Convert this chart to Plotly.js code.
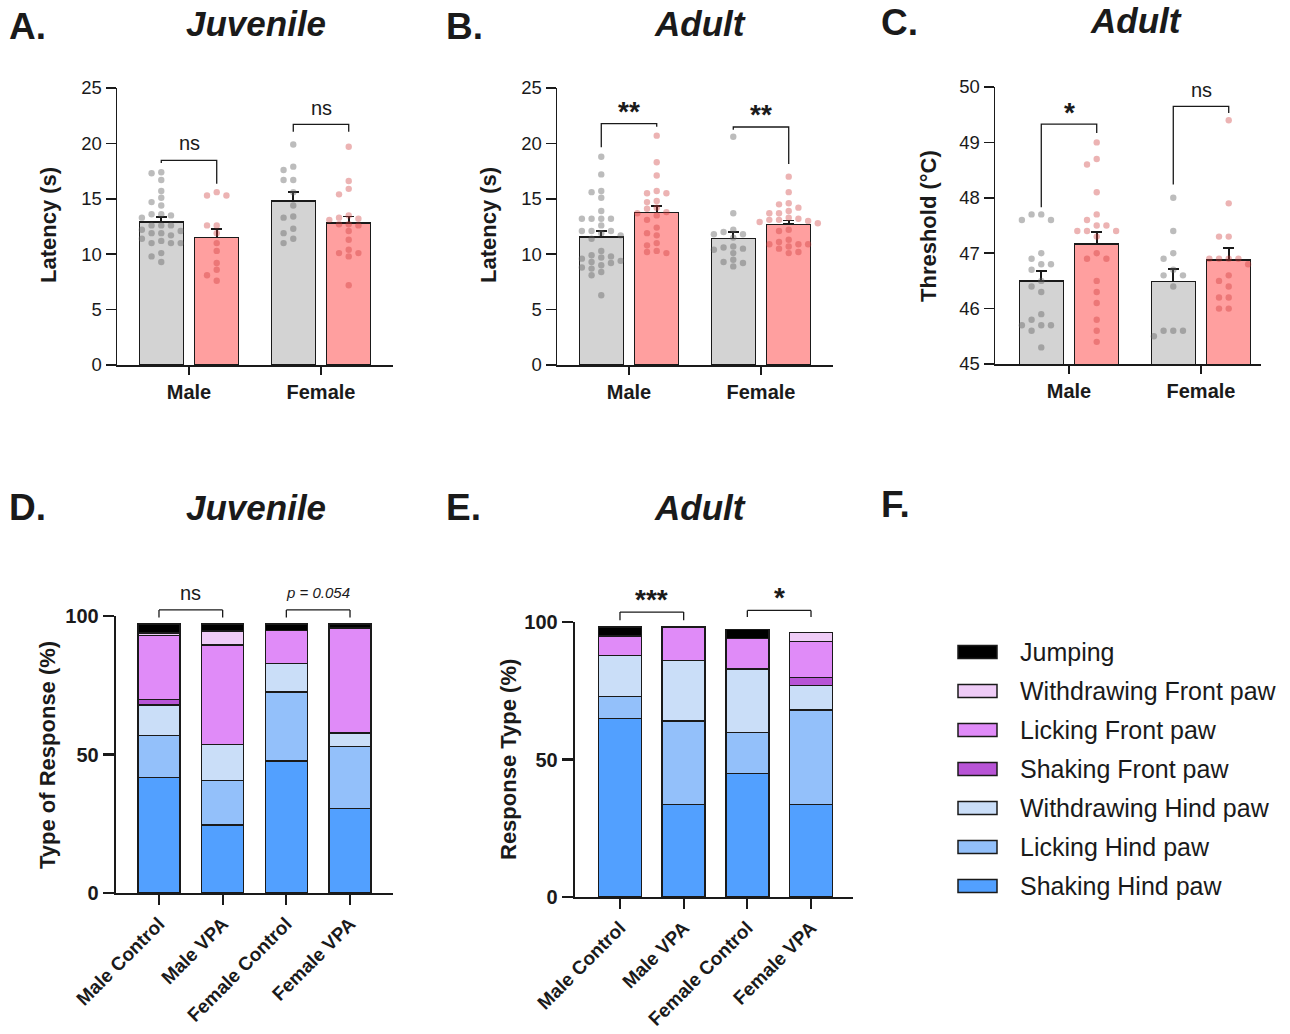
<!DOCTYPE html>
<html><head><meta charset="utf-8">
<script src="https://cdn.plot.ly/plotly-3.0.1.min.js"></script>
<style>html,body{margin:0;padding:0;background:#fff}#chart{width:1290px;height:1034px}</style>
</head><body><div id="chart"></div>
<script>
// ================= DATA =================
const sexLabels = ['Male', 'Female'];

// Panel A – Juvenile latency (s)
const juvLatMaleCtl = [17.4, 17.3, 16.7, 15.7, 15.1, 14.7, 14.4, 13.6, 13.6, 13.3, 13.5, 12.6, 12.6, 12.6, 12.2, 12.1, 11.9, 11.9, 11.7, 11.4, 11.2, 11.0, 11.0, 11.0, 10.1, 9.8, 9.3];
const juvLatMaleVPA = [15.6, 15.3, 15.3, 12.6, 12.6, 11.9, 11.0, 10.3, 9.2, 8.6, 8.1, 7.6];
const juvLatFemaleCtl = [19.9, 17.9, 17.6, 16.7, 16.7, 15.6, 14.4, 13.4, 13.3, 12.3, 11.9, 11.4, 11.0];
const juvLatFemaleVPA = [19.7, 16.6, 15.9, 15.4, 13.5, 13.3, 13.2, 13.1, 12.7, 12.7, 12.6, 12.1, 11.3, 10.4, 10.1, 10.1, 9.8, 7.2];
const juvLatMeanCtl = [12.9, 14.8];
const juvLatMeanVPA = [11.5, 12.8];
const juvLatSemCtl = [0.45, 0.8];
const juvLatSemVPA = [0.8, 0.6];

// Panel B – Adult latency (s)
const adLatMaleCtl = [18.8, 17.2, 15.7, 15.6, 15.1, 13.9, 13.2, 13.2, 13.2, 13.2, 12.6, 12.1, 12.1, 12.1, 11.9, 11.7, 11.4, 10.3, 9.9, 9.8, 9.7, 9.6, 9.4, 9.3, 9.2, 9.0, 8.8, 8.7, 8.4, 8.1, 6.3];
const adLatMaleVPA = [20.7, 18.3, 17.1, 15.7, 15.5, 15.5, 14.8, 14.7, 14.2, 14.1, 13.8, 13.7, 13.5, 13.1, 12.4, 11.9, 11.7, 11.0, 10.8, 10.3, 10.2, 10.1];
const adLatFemaleCtl = [20.6, 13.7, 12.2, 12.0, 11.8, 11.8, 11.5, 10.7, 10.6, 10.5, 10.4, 10.1, 9.5, 9.3, 9.2, 8.9];
const adLatFemaleVPA = [17.0, 15.6, 14.6, 14.5, 14.2, 13.9, 13.7, 13.7, 13.3, 13.2, 13.1, 13.1, 13.0, 12.9, 12.8, 12.2, 12.1, 11.3, 11.1, 10.9, 10.9, 10.9, 10.7, 10.5, 10.2, 10.1];
const adLatMeanCtl = [11.55, 11.4];
const adLatMeanVPA = [13.75, 12.7];
const adLatSemCtl = [0.55, 0.62];
const adLatSemVPA = [0.6, 0.36];

// Panel C – Adult threshold (°C)
const thrMaleCtl = [47.7, 47.7, 47.6, 47.6, 47.0, 46.9, 46.8, 46.8, 46.7, 46.5, 46.4, 46.3, 45.9, 45.8, 45.7, 45.7, 45.7, 45.6, 45.3];
const thrMaleVPA = [49.0, 48.7, 48.6, 48.1, 47.7, 47.6, 47.5, 47.5, 47.4, 47.4, 47.4, 47.3, 47.0, 46.9, 46.9, 46.5, 46.3, 46.1, 45.8, 45.6, 45.4];
const thrFemaleCtl = [48.0, 47.4, 47.0, 46.9, 46.7, 46.6, 46.6, 46.4, 45.6, 45.6, 45.6, 45.5];
const thrFemaleVPA = [49.4, 47.9, 47.3, 47.3, 46.9, 46.9, 46.9, 46.9, 46.8, 46.6, 46.5, 46.4, 46.2, 46.2, 46.0, 46.0];
const thrMeanCtl = [46.5, 46.49];
const thrMeanVPA = [47.17, 46.88];
const thrSemCtl = [0.18, 0.22];
const thrSemVPA = [0.21, 0.21];

// Significance labels and bracket heights [top, left leg end, right leg end]
const sigA = ['ns', 'ns'];
const bracketA = [[18.47, 18.23, 16.36], [21.72, 21.06, 21.06]];
const sigLabelYA = [20.04, 23.22];
const sigB = ['**', '**'];
const bracketB = [[21.78, 19.65, 21.5], [21.48, 21.24, 18.14]];
const sigLabelYB = [23.26, 22.95];
const sigC = ['*', 'ns'];
const bracketC = [[49.33, 47.83, 49.17], [49.65, 48.24, 49.53]];
const sigLabelYC = [49.62, 49.95];

// Panels D/E – response types (%)
const groups4 = ['Male Control', 'Male VPA', 'Female Control', 'Female VPA'];
const responseTypes = ['Shaking Hind paw', 'Licking Hind paw', 'Withdrawing Hind paw', 'Shaking Front paw', 'Licking Front paw', 'Withdrawing Front paw', 'Jumping'];
const responseColors = ['#52A0FF', '#93C0FA', '#CADEF8', '#B854D6', '#E08BF8', '#EFCCF7', '#000000'];

const juvShakingHind = [41.8, 24.6, 47.7, 30.6];
const juvLickingHind = [15.0, 16.1, 24.9, 22.2];
const juvWithdrawHind = [11.0, 13.0, 10.2, 4.9];
const juvShakingFront = [2.0, 0, 0, 0];
const juvLickingFront = [23.1, 35.8, 11.9, 37.9];
const juvWithdrawFront = [0.9, 5.1, 0, 0];
const juvJumping = [3.3, 2.5, 2.4, 1.5];

const adShakingHind = [64.9, 33.7, 45.0, 33.7];
const adLickingHind = [8.1, 30.3, 14.9, 34.3];
const adWithdrawHind = [14.9, 22.0, 23.0, 8.9];
const adShakingFront = [0, 0, 0, 3.0];
const adLickingFront = [7.0, 12.2, 11.1, 13.1];
const adWithdrawFront = [0, 0, 0, 3.1];
const adJumping = [3.3, 0, 3.2, 0];

const sigD = ['ns', '<i>p = 0.054</i>'];
const bracketD = [[102.2, 99.5, 99.5], [102.2, 99.5, 99.5]];
const sigLabelYD = [108.4, 108.4];
const sigE = ['***', '*'];
const bracketE = [[103.6, 100.6, 100.6], [104.2, 101.8, 101.8]];
const sigLabelYE = [109.8, 110.4];

// ================= LAYOUT HELPERS =================
const W = 1290, H = 1034;
const FONT = 'Arial, "Liberation Sans", Helvetica, sans-serif';
const INK = '#1a1a1a';
const px = x => x / W;
const py = y => 1 - y / H;
const dx = (a, b) => [a / W, b / W];
const dy = (top, bottom) => [1 - bottom / H, 1 - top / H];

const GRAY_BAR = '#D3D3D3', RED_BAR = '#FF9F9F';
const GRAY_DOT = 'rgba(95,95,95,0.42)', RED_DOT = 'rgba(205,55,55,0.38)';
const OFF = 0.21, BARW = 0.333;
const AST_SIZE = 28, AST_SHIFT = -4;

// deterministic beeswarm (column layout)
function swarm(values, center, pxPerX, pxPerY) {
  const step = 9.7, minGap = 6.6;
  const placed = [];
  const out = new Array(values.length);
  const order = values.map((v, i) => i).sort((a, b) => values[b] - values[a]);
  for (const i of order) {
    const y = values[i] * pxPerY;
    for (let k = 0; k < 30; k++) {
      const col = k === 0 ? 0 : (k % 2 ? -Math.ceil(k / 2) : Math.ceil(k / 2));
      if (!placed.some(p => p.col === col && Math.abs(p.y - y) < minGap)) {
        placed.push({ col, y });
        out[i] = center + col * step / pxPerX;
        break;
      }
    }
  }
  return out;
}

const traces = [];
const annotations = [];
const shapes = [];

function sigFont(label) {
  const isAst = label.indexOf('*') >= 0;
  const isP = label.indexOf('p =') >= 0;
  return { family: FONT, size: isAst ? AST_SIZE : (isP ? 15 : 20), color: INK, weight: isAst ? 'bold' : 'normal' };
}

function addDotPanel(ax, means, sems, dots, pxPerY, brackets, sig, sigY) {
  const xa = 'x' + (ax === 1 ? '' : ax), ya = 'y' + (ax === 1 ? '' : ax);
  const [meanC, meanV] = means, [semC, semV] = sems;
  traces.push({
    type: 'bar', xaxis: xa, yaxis: ya, x: [0 - OFF, 1 - OFF], y: meanC, width: BARW,
    marker: { color: GRAY_BAR, line: { color: INK, width: 1.5 } },
    error_y: { type: 'data', symmetric: false, array: semC, arrayminus: [0, 0], color: INK, thickness: 1.6, width: 5.5 },
    showlegend: false, hoverinfo: 'skip'
  });
  traces.push({
    type: 'bar', xaxis: xa, yaxis: ya, x: [0 + OFF, 1 + OFF], y: meanV, width: BARW,
    marker: { color: RED_BAR, line: { color: INK, width: 1.5 } },
    error_y: { type: 'data', symmetric: false, array: semV, arrayminus: [0, 0], color: INK, thickness: 1.6, width: 5.5 },
    showlegend: false, hoverinfo: 'skip'
  });
  dots.forEach((vals, gi) => {
    const sexIdx = gi >> 1, isVPA = gi % 2 === 1;
    const c = sexIdx + (isVPA ? OFF : -OFF);
    traces.push({
      type: 'scatter', mode: 'markers', xaxis: xa, yaxis: ya,
      x: swarm(vals, c, 132, pxPerY), y: vals,
      marker: { size: 6.4, color: isVPA ? RED_DOT : GRAY_DOT, line: { width: 0 } },
      cliponaxis: false, showlegend: false, hoverinfo: 'skip'
    });
  });
  brackets.forEach((b, i) => {
    traces.push({
      type: 'scatter', mode: 'lines', xaxis: xa, yaxis: ya,
      x: [i - OFF, i - OFF, i + OFF, i + OFF], y: [b[1], b[0], b[0], b[2]],
      line: { color: INK, width: 1.3 }, cliponaxis: false, showlegend: false, hoverinfo: 'skip'
    });
    const isAst = sig[i].indexOf('*') >= 0;
    annotations.push({
      xref: xa, yref: ya, x: i, y: sigY[i], text: sig[i], showarrow: false,
      xanchor: 'center', yanchor: 'middle', yshift: isAst ? AST_SHIFT : 0, font: sigFont(sig[i])
    });
  });
}

addDotPanel(1, [juvLatMeanCtl, juvLatMeanVPA], [juvLatSemCtl, juvLatSemVPA],
  [juvLatMaleCtl, juvLatMaleVPA, juvLatFemaleCtl, juvLatFemaleVPA], 277 / 25, bracketA, sigA, sigLabelYA);
addDotPanel(2, [adLatMeanCtl, adLatMeanVPA], [adLatSemCtl, adLatSemVPA],
  [adLatMaleCtl, adLatMaleVPA, adLatFemaleCtl, adLatFemaleVPA], 277 / 25, bracketB, sigB, sigLabelYB);
addDotPanel(3, [thrMeanCtl, thrMeanVPA], [thrSemCtl, thrSemVPA],
  [thrMaleCtl, thrMaleVPA, thrFemaleCtl, thrFemaleVPA], 277 / 5, bracketC, sigC, sigLabelYC);

// ================= AXES =================
function axisBase(lw) {
  return {
    showline: true, linecolor: INK, linewidth: lw, ticks: 'outside', ticklen: 9, tickwidth: lw, tickcolor: INK,
    showgrid: false, zeroline: false, fixedrange: true
  };
}
const xCat = (dom, range, anchor) => Object.assign(axisBase(1.5), {
  domain: dom, range: range, tickvals: [0, 1], ticktext: sexLabels, anchor: anchor, ticklen: 8,
  tickfont: { family: FONT, size: 20, color: INK, weight: 'bold' }
});
const yNum = (dom, range, dtick, anchor) => Object.assign(axisBase(1.5), {
  domain: dom, range: range, dtick: dtick, anchor: anchor, ticklen: 10,
  tickfont: { family: FONT, size: 18.5, color: INK }
});
const xStack = (dom, range, anchor) => Object.assign(axisBase(2.3), {
  domain: dom, range: range, type: 'category', categoryorder: 'array', categoryarray: groups4,
  anchor: anchor, tickangle: -45, ticklen: 10,
  tickfont: { family: FONT, size: 19, color: INK, weight: 'bold' }
});
const yStack = (dom, anchor) => Object.assign(axisBase(2.3), {
  domain: dom, range: [0, 100], tickvals: [0, 50, 100], anchor: anchor, ticklen: 11,
  tickfont: { family: FONT, size: 20, color: INK, weight: 'bold' }
});

const axD = xStack(dx(116, 393), [-43 / 63.7, 3 + 43 / 63.7], 'y4');
const ayD = yStack(dy(616, 893), 'x4');
const axE = xStack(dx(575, 853), [-45 / 63.7, 3 + 42 / 63.7], 'y5');
const ayE = yStack(dy(622, 897), 'x5');

// stacked panels
const juvSeries = [juvShakingHind, juvLickingHind, juvWithdrawHind, juvShakingFront, juvLickingFront, juvWithdrawFront, juvJumping];
const adSeries = [adShakingHind, adLickingHind, adWithdrawHind, adShakingFront, adLickingFront, adWithdrawFront, adJumping];

// fraction of an axis' domain for a data value (brackets above the plotted range)
const frac = (axis, v) => (v - axis.range[0]) / (axis.range[1] - axis.range[0]);

function addStackPanel(ax, axX, axY, series, barW, brackets, sig, sigY) {
  const xa = 'x' + ax, ya = 'y' + ax;
  const xd = xa + ' domain', yd = ya + ' domain';
  series.forEach((vals, i) => {
    traces.push({
      type: 'bar', xaxis: xa, yaxis: ya, x: groups4, y: vals, width: barW, name: responseTypes[i],
      marker: { color: responseColors[i], line: { color: INK, width: 1.4 } },
      showlegend: false, hoverinfo: 'skip'
    });
  });
  brackets.forEach((b, i) => {
    const xL = frac(axX, 2 * i), xR = frac(axX, 2 * i + 1);
    const yT = frac(axY, b[0]), yL = frac(axY, b[1]), yR = frac(axY, b[2]);
    const ln = { color: INK, width: 1.3 };
    shapes.push({ type: 'line', xref: xd, yref: yd, x0: xL, x1: xL, y0: yL, y1: yT, line: ln });
    shapes.push({ type: 'line', xref: xd, yref: yd, x0: xL, x1: xR, y0: yT, y1: yT, line: ln });
    shapes.push({ type: 'line', xref: xd, yref: yd, x0: xR, x1: xR, y0: yR, y1: yT, line: ln });
    const isAst = sig[i].indexOf('*') >= 0;
    annotations.push({
      xref: xd, yref: yd, x: frac(axX, 2 * i + 0.5), y: frac(axY, sigY[i]), text: sig[i], showarrow: false,
      xanchor: 'center', yanchor: 'middle', yshift: isAst ? AST_SHIFT : 0, font: sigFont(sig[i])
    });
  });
}
addStackPanel(4, axD, ayD, juvSeries, 0.66, bracketD, sigD, sigLabelYD);
addStackPanel(5, axE, ayE, adSeries, 0.675, bracketE, sigE, sigLabelYE);

const layout = {
  width: W, height: H, margin: { l: 0, r: 0, t: 0, b: 0 },
  paper_bgcolor: '#fff', plot_bgcolor: 'rgba(0,0,0,0)',
  font: { family: FONT, color: INK },
  barmode: 'stack', showlegend: false, hovermode: false,
  xaxis: xCat(dx(117, 393), [-72 / 132, 1 + 72 / 132], 'y'),
  yaxis: yNum(dy(88, 365), [0, 25], 5, 'x'),
  xaxis2: xCat(dx(557, 833), [-72 / 132, 1 + 72 / 132], 'y2'),
  yaxis2: yNum(dy(88, 365), [0, 25], 5, 'x2'),
  xaxis3: xCat(dx(995, 1261), [-74 / 132, 1 + 60 / 132], 'y3'),
  yaxis3: yNum(dy(87, 364), [45, 50], 1, 'x3'),
  xaxis4: axD, yaxis4: ayD,
  xaxis5: axE, yaxis5: ayE,
  annotations: annotations,
  shapes: shapes
};

// panel letters & titles
const paperText = (x, y, text, size, opts) => Object.assign({
  xref: 'paper', yref: 'paper', x: px(x), y: py(y), text: text, showarrow: false,
  xanchor: 'center', yanchor: 'middle', font: { family: FONT, size: size, color: INK, weight: 'bold' }
}, opts || {});
[['A.', 7, 27], ['B.', 444, 27], ['C.', 879, 22], ['D.', 7, 507], ['E.', 444, 507], ['F.', 879, 505]].forEach(l =>
  annotations.push(paperText(l[1], l[2], l[0], 37, { xanchor: 'left' })));
[['Juvenile', 256, 24], ['Adult', 700, 24], ['Adult', 1136, 21], ['Juvenile', 256, 507], ['Adult', 700, 507]].forEach(t =>
  annotations.push(paperText(t[1], t[2], t[0], 35, { font: { family: FONT, size: 35, color: INK, weight: 'bold', style: 'italic' } })));
// y-axis titles
[['Latency (s)', 48, 225], ['Latency (s)', 488, 225], ['Threshold (°C)', 928, 226],
 ['Type of Response (%)', 47, 755], ['Response Type (%)', 508, 760]].forEach(t =>
  annotations.push(paperText(t[1], t[2], t[0], 22, { textangle: -90 })));

// legend (F)
const legendOrder = responseTypes.map((n, i) => i).reverse();
legendOrder.forEach((idx, r) => {
  const yc = 652 + r * 39;
  shapes.push({
    type: 'rect', xref: 'paper', yref: 'paper', x0: px(958), x1: px(997), y0: py(yc + 6.5), y1: py(yc - 6.5),
    fillcolor: responseColors[idx], line: { color: INK, width: 1.5 }
  });
  annotations.push(paperText(1018, yc, responseTypes[idx], 25, {
    xanchor: 'left', font: { family: FONT, size: 25, color: INK, weight: 'normal' }
  }));
});

Plotly.newPlot('chart', traces, layout, { staticPlot: true, displayModeBar: false });
</script></body></html>
